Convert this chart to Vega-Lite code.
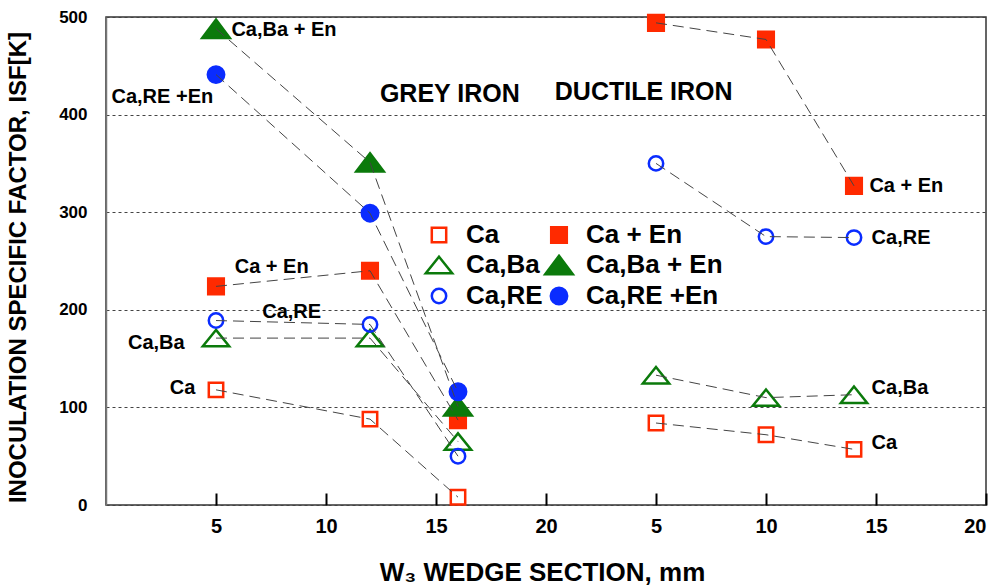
{
  "$schema": "https://vega.github.io/schema/vega-lite/v6.json",
  "width": 880,
  "height": 488,
  "autosize": {"type": "none"},
  "padding": {"left": 106, "top": 17, "right": 16, "bottom": 83},
  "background": "white",
  "config": {
    "view": {"stroke": "#333", "strokeWidth": 1.5},
    "font": "Liberation Sans"
  },
  "datasets": {
    "isf": [
      {"series": "Ca", "iron": "Grey", "section": 5, "isf": 118},
      {"series": "Ca", "iron": "Grey", "section": 12, "isf": 88},
      {"series": "Ca", "iron": "Grey", "section": 16, "isf": 8},
      {"series": "Ca + En", "iron": "Grey", "section": 5, "isf": 224},
      {"series": "Ca + En", "iron": "Grey", "section": 12, "isf": 240},
      {"series": "Ca + En", "iron": "Grey", "section": 16, "isf": 87},
      {"series": "Ca,Ba", "iron": "Grey", "section": 5, "isf": 171},
      {"series": "Ca,Ba", "iron": "Grey", "section": 12, "isf": 171},
      {"series": "Ca,Ba", "iron": "Grey", "section": 16, "isf": 65},
      {"series": "Ca,Ba + En", "iron": "Grey", "section": 5, "isf": 488},
      {"series": "Ca,Ba + En", "iron": "Grey", "section": 12, "isf": 351},
      {"series": "Ca,Ba + En", "iron": "Grey", "section": 16, "isf": 101},
      {"series": "Ca,RE", "iron": "Grey", "section": 5, "isf": 189},
      {"series": "Ca,RE", "iron": "Grey", "section": 12, "isf": 185},
      {"series": "Ca,RE", "iron": "Grey", "section": 16, "isf": 50},
      {"series": "Ca,RE +En", "iron": "Grey", "section": 5, "isf": 441},
      {"series": "Ca,RE +En", "iron": "Grey", "section": 12, "isf": 299},
      {"series": "Ca,RE +En", "iron": "Grey", "section": 16, "isf": 116},
      {"series": "Ca", "iron": "Ductile", "section": 5, "isf": 84},
      {"series": "Ca", "iron": "Ductile", "section": 10, "isf": 72},
      {"series": "Ca", "iron": "Ductile", "section": 14, "isf": 57},
      {"series": "Ca + En", "iron": "Ductile", "section": 5, "isf": 494},
      {"series": "Ca + En", "iron": "Ductile", "section": 10, "isf": 477},
      {"series": "Ca + En", "iron": "Ductile", "section": 14, "isf": 327},
      {"series": "Ca,Ba", "iron": "Ductile", "section": 5, "isf": 133},
      {"series": "Ca,Ba", "iron": "Ductile", "section": 10, "isf": 110},
      {"series": "Ca,Ba", "iron": "Ductile", "section": 14, "isf": 113},
      {"series": "Ca,RE", "iron": "Ductile", "section": 5, "isf": 350},
      {"series": "Ca,RE", "iron": "Ductile", "section": 10, "isf": 275},
      {"series": "Ca,RE", "iron": "Ductile", "section": 14, "isf": 274}
    ],
    "labels": [
      {"text": "Ca,Ba + En", "x": 5.7, "y": 487, "size": 20},
      {"text": "Ca,RE +En", "x": 0.25, "y": 418, "size": 20},
      {"text": "Ca + En", "x": 5.85, "y": 244, "size": 20},
      {"text": "Ca,RE", "x": 7.1, "y": 198, "size": 20},
      {"text": "Ca,Ba", "x": 1.0, "y": 166, "size": 20},
      {"text": "Ca", "x": 2.9, "y": 120, "size": 20},
      {"text": "Ca + En", "x": 34.7, "y": 327, "size": 20},
      {"text": "Ca,RE", "x": 34.8, "y": 274, "size": 20},
      {"text": "Ca,Ba", "x": 34.8, "y": 120, "size": 20},
      {"text": "Ca", "x": 34.8, "y": 64, "size": 20},
      {"text": "GREY IRON", "x": 12.45, "y": 421, "size": 25},
      {"text": "DUCTILE IRON", "x": 20.4, "y": 423, "size": 25}
    ]
  },
  "layer": [
    {
      "data": {"name": "isf"},
      "transform": [{"calculate": "datum.iron === 'Ductile' ? datum.section + 20 : datum.section", "as": "xpos"}],
      "mark": {"type": "point", "strokeWidth": 2.5, "opacity": 1, "size": 400},
      "encoding": {
        "x": {
          "field": "xpos", "type": "quantitative",
          "scale": {"domain": [0, 40], "nice": false, "zero": false},
          "axis": {
            "values": [5, 10, 15, 20, 25, 30, 35, 40],
            "labelExpr": "datum.value > 20 ? datum.value - 20 : datum.value",
            "labelFont": "Liberation Sans", "labelFontSize": 20, "labelFontWeight": "bold", "labelColor": "black",
            "offset": -12,
            "labelPadding": 11,
            "ticks": true,
            "tickSize": 12, "tickColor": "black", "tickWidth": 2, "tickOpacity": 1,
            "domain": false,
            "grid": false,
            "title": "W₃ WEDGE SECTION, mm",
            "titleFont": "Liberation Sans", "titleFontSize": 26, "titleFontWeight": "bold", "titleColor": "black",
            "titleBaseline": "alphabetic", "titleY": 87, "titleX": 436
          }
        },
        "y": {
          "field": "isf", "type": "quantitative",
          "scale": {"domain": [0, 500], "nice": false},
          "axis": {
            "values": [0, 100, 200, 300, 400, 500],
            "labelFont": "Liberation Sans", "labelFontSize": 17, "labelFontWeight": "bold", "labelColor": "black",
            "labelPadding": 19,
            "ticks": false,
            "domainColor": "#777", "domainWidth": 1.5,
            "grid": true, "gridColor": "#444", "gridDash": [3, 3], "gridWidth": 1,
            "title": "INOCULATION SPECIFIC FACTOR, ISF[K]",
            "titleFont": "Liberation Sans", "titleFontSize": 24, "titleFontWeight": "bold", "titleColor": "black",
            "titleBaseline": "middle", "titleX": -88, "titleY": 250
          }
        },
        "shape": {
          "field": "series", "type": "nominal",
          "scale": {
            "domain": ["Ca", "Ca,Ba", "Ca,RE", "Ca + En", "Ca,Ba + En", "Ca,RE +En"],
            "range": [
              "M-0.72,-0.72L0.72,-0.72L0.72,0.72L-0.72,0.72Z",
              "M0,-0.82L1.32,0.82L-1.32,0.82Z",
              "M-0.72,0A0.72,0.72 0 1,1 0.72,0A0.72,0.72 0 1,1 -0.72,0Z",
              "M-0.78,-0.78L0.78,-0.78L0.78,0.78L-0.78,0.78Z",
              "M0,-0.92L1.38,0.92L-1.38,0.92Z",
              "M-0.82,0A0.82,0.82 0 1,1 0.82,0A0.82,0.82 0 1,1 -0.82,0Z"
            ]
          },
          "legend": {
            "orient": "none", "legendX": 320, "legendY": 205, "columns": 2, "title": null,
            "labelFont": "Liberation Sans", "labelFontSize": 26, "labelFontWeight": "bold", "labelColor": "black",
            "symbolSize": 400, "symbolStrokeWidth": 2.5, "labelOffset": 14, "columnPadding": -3, "rowPadding": 2,
            "padding": 0, "labelLimit": 300
          }
        },
        "fill": {
          "field": "series", "type": "nominal",
          "scale": {
            "domain": ["Ca", "Ca,Ba", "Ca,RE", "Ca + En", "Ca,Ba + En", "Ca,RE +En"],
            "range": ["transparent", "transparent", "transparent", "#ff2a00", "#0b7a0b", "#0a2cff"]
          }
        },
        "stroke": {
          "field": "series", "type": "nominal",
          "scale": {
            "domain": ["Ca", "Ca,Ba", "Ca,RE", "Ca + En", "Ca,Ba + En", "Ca,RE +En"],
            "range": ["#ff2a00", "#0b7a0b", "#0a2cff", "#ff2a00", "#0b7a0b", "#0a2cff"]
          }
        }
      }
    },
    {
      "data": {"name": "isf"},
      "transform": [{"calculate": "datum.iron === 'Ductile' ? datum.section + 20 : datum.section", "as": "xpos"}],
      "mark": {"type": "line", "color": "#444", "strokeWidth": 1, "strokeDash": [11, 6]},
      "encoding": {
        "x": {"field": "xpos", "type": "quantitative"},
        "y": {"field": "isf", "type": "quantitative"},
        "detail": [{"field": "series", "type": "nominal"}, {"field": "iron", "type": "nominal"}],
        "order": {"field": "xpos", "type": "quantitative"}
      }
    },
    {
      "mark": {"type": "rule", "color": "black", "strokeWidth": 2},
      "encoding": {"x": {"datum": 20, "type": "quantitative"}}
    },
    {
      "data": {"name": "labels"},
      "mark": {"type": "text", "align": "left", "baseline": "middle", "font": "Liberation Sans", "fontWeight": "bold", "color": "black"},
      "encoding": {
        "x": {"field": "x", "type": "quantitative"},
        "y": {"field": "y", "type": "quantitative"},
        "text": {"field": "text", "type": "nominal"},
        "size": {"field": "size", "type": "quantitative", "scale": null, "legend": null}
      }
    }
  ]
}
